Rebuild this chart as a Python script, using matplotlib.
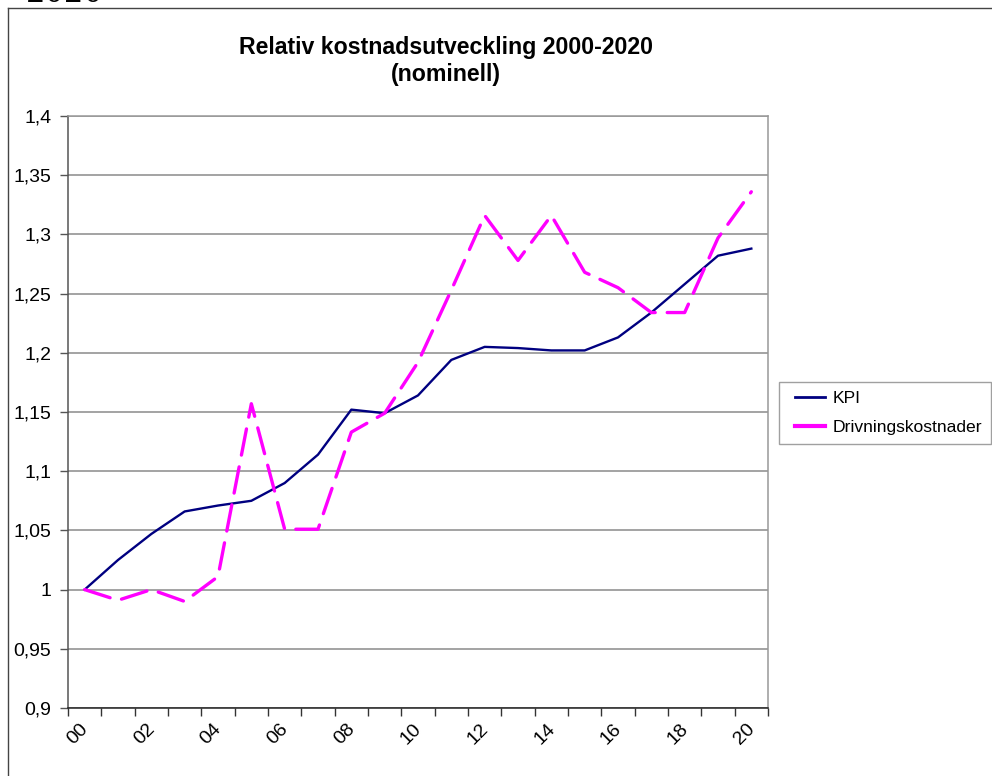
import matplotlib
matplotlib.use("Agg")
import matplotlib.pyplot as plt
from matplotlib.lines import Line2D
from matplotlib.legend_handler import HandlerLine2D
from matplotlib.ticker import FixedLocator, FuncFormatter
from matplotlib.transforms import ScaledTranslation
import numpy as np

plt.rcParams['font.family'] = ['Liberation Sans', 'DejaVu Sans']

years = ["00", "01", "02", "03", "04", "05", "06", "07", "08", "09", "10",
         "11", "12", "13", "14", "15", "16", "17", "18", "19", "20"]
kpi = [1.000, 1.025, 1.047, 1.066, 1.071, 1.075, 1.090, 1.114, 1.152, 1.149, 1.164,
       1.194, 1.205, 1.204, 1.202, 1.202, 1.213, 1.234, 1.258, 1.282, 1.288]
drivning = [1.000, 0.991, 1.000, 0.990, 1.011, 1.157, 1.051, 1.051, 1.133, 1.149, 1.192,
            1.253, 1.316, 1.278, 1.316, 1.268, 1.255, 1.234, 1.234, 1.297, 1.336]
series_names = ["KPI", "Drivningskostnader"]
y_ticks = [0.9, 0.95, 1.0, 1.05, 1.1, 1.15, 1.2, 1.25, 1.3, 1.35, 1.4]
title = "Relativ kostnadsutveckling 2000-2020\n(nominell)"

W, H = 992, 776
fig = plt.figure(figsize=(W / 100, H / 100), dpi=100)
ax = fig.add_axes([68 / W, (H - 708) / H, 700 / W, 592 / H])

x = np.arange(len(years))
ax.plot(x, kpi, color='#000080', lw=1.7, solid_joinstyle='round', zorder=3)
ax.plot(x, drivning, color='#FF00FF', lw=2.4, dashes=[8, 3.6],
        dash_capstyle='round', zorder=4)

ax.set_xlim(-0.5, len(years) - 0.5)
ax.set_ylim(0.9, 1.4)

# x ticks at category boundaries, labels at even categories
ax.xaxis.set_major_locator(FixedLocator(np.arange(-0.5, len(years), 1.0)))
ax.xaxis.set_major_formatter(FuncFormatter(lambda v, p: ""))
ax.tick_params(axis='x', which='major', direction='out', length=6, width=1, color='#333333')
ax.set_xticks(x[::2], minor=True)
ax.set_xticklabels(years[::2], minor=True, rotation=45, ha='right',
                   rotation_mode='anchor', fontsize=14)
ax.tick_params(axis='x', which='minor', length=0, pad=9)
shift = ScaledTranslation(-5 / 100, 0, fig.dpi_scale_trans)
for lbl in ax.xaxis.get_minorticklabels():
    lbl.set_transform(lbl.get_transform() + shift)

ax.set_yticks(y_ticks)
ax.yaxis.set_major_formatter(FuncFormatter(lambda v, p: f"{v:g}".replace('.', ',')))
ax.tick_params(axis='y', direction='out', length=6, width=1, color='#555555',
               labelsize=14, pad=6)
ax.grid(axis='y', color='#8a8a8a', lw=1.1)
ax.set_axisbelow(True)

ax.spines['left'].set_color('#555555')
ax.spines['bottom'].set_color('#222222')
ax.spines['right'].set_color('#999999')
ax.spines['top'].set_color('#999999')
for s in ax.spines.values():
    s.set_linewidth(1.1)

fig.text(446 / W, 1 - 36 / H, title, ha='center', va='top', fontsize=16.7,
         fontweight='bold', linespacing=1.22)


class InsetLineHandler(HandlerLine2D):
    def create_artists(self, legend, orig_handle, xdescent, ydescent, width,
                       height, fontsize, trans):
        arts = super().create_artists(legend, orig_handle, xdescent, ydescent,
                                      width, height, fontsize, trans)
        for a in arts:
            xs = np.asarray(a.get_xdata(), dtype=float)
            if xs.size >= 2:
                xs[0] = xs[0] + 5
                a.set_xdata(xs)
        return arts


handles = [Line2D([], [], color='#000080', lw=2.0),
           Line2D([], [], color='#FF00FF', lw=3.0)]
leg = fig.legend(handles, series_names, loc='upper left',
                 bbox_to_anchor=(779 / W, 1 - 382 / H), fontsize=12.6,
                 frameon=True, fancybox=False, handlelength=2.1,
                 handletextpad=0.45, borderpad=0.5, labelspacing=0.78,
                 borderaxespad=0,
                 handler_map={Line2D: InsetLineHandler()})
leg.get_frame().set_edgecolor('#888888')
leg.get_frame().set_linewidth(1.0)

# outer chart frame (partially visible)
fig.add_artist(Line2D([8 / W, 8 / W], [0, 1 - 8 / H], color='#444444', lw=1.0,
                      transform=fig.transFigure))
fig.add_artist(Line2D([8 / W, 1], [1 - 8 / H, 1 - 8 / H], color='#444444', lw=1.0,
                      transform=fig.transFigure))
# cut-off text above the chart
fig.text(26 / W, 1 - 2.5 / H, "2020", ha='left', va='baseline', fontsize=22,
         family='DejaVu Serif')

fig.savefig("out.png", dpi=100)
